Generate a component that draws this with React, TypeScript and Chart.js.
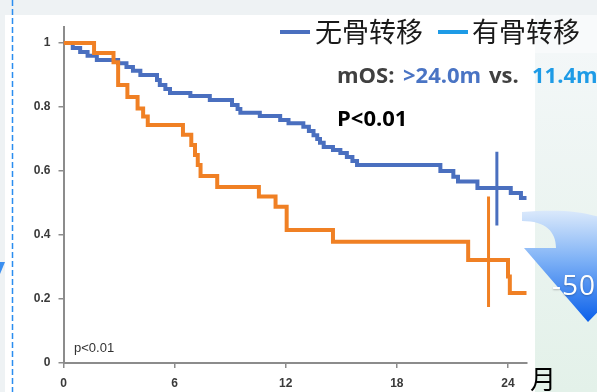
import React, { useEffect, useRef } from 'react';
import { Chart, registerables } from 'chart.js';

Chart.register(...registerables);

// ---- data ----
const blueMonths = [0, 0.5, 0.9, 1.3, 1.8, 2.95, 3.4, 3.75, 4.15, 5.05, 5.2, 5.5, 5.75, 6.85, 7.9, 9.1, 9.4, 9.55, 10.6, 11.7, 12.15, 12.95, 13.25, 13.5, 13.7, 13.85, 14.05, 14.55, 14.95, 15.3, 15.6, 15.85, 20.35, 21.05, 21.3, 22.35, 24.15, 24.7];
const blueSurv = [1, 0.984, 0.972, 0.96, 0.947, 0.937, 0.925, 0.913, 0.9, 0.884, 0.869, 0.856, 0.844, 0.834, 0.822, 0.806, 0.794, 0.782, 0.772, 0.759, 0.749, 0.738, 0.725, 0.712, 0.7, 0.688, 0.675, 0.666, 0.656, 0.644, 0.631, 0.619, 0.6, 0.582, 0.567, 0.547, 0.531, 0.516];
const blueEnd = 25.05;

const orangeMonths = [0, 1.65, 2.7, 2.95, 3.45, 4.0, 4.3, 4.55, 6.45, 6.9, 7.1, 7.25, 7.4, 8.3, 10.55, 11.45, 12.05, 14.55, 21.85, 24.0, 24.1];
const orangeSurv = [1, 0.969, 0.94, 0.869, 0.831, 0.795, 0.77, 0.744, 0.713, 0.681, 0.65, 0.619, 0.584, 0.55, 0.52, 0.488, 0.416, 0.379, 0.322, 0.27, 0.219];
const orangeEnd = 25.1;

const blueMarkMonth = 23.4;
const blueMarkRange = [0.43, 0.66];
const orangeMarkMonth = 22.95;
const orangeMarkRange = [0.175, 0.52];

const xTicks = [0, 6, 12, 18, 24];
const yTicks = [0, 0.2, 0.4, 0.6, 0.8, 1];
const legendLabels = ['无骨转移', '有骨转移'];

const BLUE = '#4a6fbf';
const ORANGE = '#f08024';
const SKY = '#1e9be6';

function stepPoints(months: number[], surv: number[], end: number) {
  const pts = months.map((m, i) => ({ x: m, y: surv[i] }));
  pts.push({ x: end, y: surv[surv.length - 1] });
  return pts;
}

const decorPlugin = {
  id: 'decor',
  beforeDraw(chart: any) {
    const ctx = chart.ctx as CanvasRenderingContext2D;
    const W = chart.width;
    const H = chart.height;
    ctx.save();
    ctx.fillStyle = '#eef2f4';
    ctx.fillRect(0, 0, W, H);
    const g = ctx.createLinearGradient(0, 50, 0, H);
    g.addColorStop(0, '#f3f7f8');
    g.addColorStop(1, '#e3f1e9');
    ctx.fillStyle = g;
    ctx.fillRect(535, 15, W - 535, H - 15);
    ctx.fillStyle = '#f8fafb';
    ctx.fillRect(535, 15, W - 535, 38);
    ctx.fillStyle = '#ffffff';
    ctx.fillRect(5, 15, 530, H - 15);
    // dashed guide line
    ctx.strokeStyle = '#2a8df0';
    ctx.lineWidth = 1.5;
    ctx.setLineDash([6, 3]);
    ctx.beginPath();
    ctx.moveTo(12.5, 0);
    ctx.lineTo(12.5, H);
    ctx.stroke();
    ctx.setLineDash([]);
    // small triangle at left edge
    ctx.fillStyle = '#3b8ff0';
    ctx.beginPath();
    ctx.moveTo(0, 262);
    ctx.lineTo(5, 262);
    ctx.lineTo(0, 274);
    ctx.closePath();
    ctx.fill();
    ctx.restore();
  },
  afterDraw(chart: any) {
    const ctx = chart.ctx as CanvasRenderingContext2D;
    ctx.save();
    const g = ctx.createLinearGradient(0, 208, 0, 322);
    g.addColorStop(0, 'rgba(222,235,252,0.95)');
    g.addColorStop(0.45, '#7fb2f6');
    g.addColorStop(1, '#0b60ea');
    ctx.fillStyle = g;
    ctx.beginPath();
    ctx.moveTo(522, 212);
    ctx.bezierCurveTo(590, 206, 626, 220, 628, 248);
    ctx.lineTo(660, 248);
    ctx.lineTo(588, 322);
    ctx.lineTo(524, 248);
    ctx.lineTo(556, 248);
    ctx.bezierCurveTo(556, 232, 546, 221, 522, 221);
    ctx.closePath();
    ctx.fill();
    ctx.restore();
  },
};

export default function App() {
  const ref = useRef<HTMLCanvasElement | null>(null);

  useEffect(() => {
    if (!ref.current) return;
    const chart = new Chart(ref.current, {
      type: 'line',
      data: {
        datasets: [
          {
            label: legendLabels[1],
            data: stepPoints(orangeMonths, orangeSurv, orangeEnd),
            borderColor: ORANGE,
            borderWidth: 4,
            stepped: 'before',
            pointRadius: 0,
            fill: false,
            borderJoinStyle: 'miter',
            order: 1,
          },
          {
            label: 'orange-mark',
            data: [
              { x: orangeMarkMonth, y: orangeMarkRange[0] },
              { x: orangeMarkMonth, y: orangeMarkRange[1] },
            ],
            borderColor: ORANGE,
            borderWidth: 3,
            pointRadius: 0,
            fill: false,
            order: 2,
          },
          {
            label: legendLabels[0],
            data: stepPoints(blueMonths, blueSurv, blueEnd),
            borderColor: BLUE,
            borderWidth: 4,
            stepped: 'before',
            pointRadius: 0,
            fill: false,
            borderJoinStyle: 'miter',
            order: 3,
          },
          {
            label: 'blue-mark',
            data: [
              { x: blueMarkMonth, y: blueMarkRange[0] },
              { x: blueMarkMonth, y: blueMarkRange[1] },
            ],
            borderColor: BLUE,
            borderWidth: 3,
            pointRadius: 0,
            fill: false,
            order: 4,
          },
        ],
      },
      options: {
        responsive: false,
        animation: false,
        devicePixelRatio: 1,
        layout: { padding: { top: 27, right: 70.5, left: 0, bottom: 0 } },
        plugins: {
          legend: { display: false },
          tooltip: { enabled: false },
        },
        scales: {
          x: {
            type: 'linear',
            min: 0,
            max: 25,
            afterBuildTicks: (s: any) => {
              s.ticks = xTicks.map((v) => ({ value: v }));
            },
            afterFit: (s: any) => {
              s.height = 29;
            },
            grid: { drawOnChartArea: false, tickLength: 5, color: '#8c8c8c', lineWidth: 1.5 },
            border: { color: '#8c8c8c', width: 2 },
            ticks: {
              padding: 8,
              color: '#3a3a3a',
              font: { family: 'Liberation Sans', size: 12, weight: 'bold' },
              maxRotation: 0,
              autoSkip: false,
            },
          },
          y: {
            type: 'linear',
            min: 0,
            max: 1.05,
            afterBuildTicks: (s: any) => {
              s.ticks = yTicks.map((v) => ({ value: v }));
            },
            afterFit: (s: any) => {
              s.width = 63.5;
            },
            grid: { drawOnChartArea: false, tickLength: 5, color: '#8c8c8c', lineWidth: 1.5 },
            border: { color: '#8c8c8c', width: 2 },
            ticks: {
              padding: 8,
              color: '#3a3a3a',
              font: { family: 'Liberation Sans', size: 12, weight: 'bold' },
              callback: (v: any) => String(v),
            },
          },
        },
      },
      plugins: [decorPlugin],
    } as any);
    return () => chart.destroy();
  }, []);

  const abs = (extra: React.CSSProperties): React.CSSProperties => ({
    position: 'absolute',
    whiteSpace: 'pre',
    ...extra,
  });
  const bold22: React.CSSProperties = {
    fontFamily: '"Open Sans", "Noto Sans", sans-serif',
    fontWeight: 700,
    fontSize: 22,
    lineHeight: '22px',
  };
  const cjk: React.CSSProperties = {
    fontFamily: '"Noto Sans CJK SC", sans-serif',
    fontSize: 27,
    lineHeight: '27px',
    color: '#1a1a1a',
  };

  return (
    <div style={{ position: 'absolute', left: 0, top: 0, width: 597, height: 392, overflow: 'hidden' }}>
      <canvas ref={ref} width={597} height={392} style={{ display: 'block', width: 597, height: 392 }} />
      {/* legend */}
      <div style={abs({ left: 280, top: 30, width: 30, height: 4, background: BLUE })} />
      <div style={abs({ left: 315, top: 17, ...cjk })}>{legendLabels[0]}</div>
      <div style={abs({ left: 438, top: 30, width: 30, height: 4, background: SKY })} />
      <div style={abs({ left: 472, top: 17, ...cjk })}>{legendLabels[1]}</div>
      {/* annotations */}
      <div style={abs({ left: 337, top: 62.5, color: '#404040', ...bold22 })}>mOS:</div>
      <div style={abs({ left: 403, top: 62.5, color: '#4a74c4', ...bold22 })}>{'>24.0m'}</div>
      <div style={abs({ left: 489, top: 62.5, color: '#404040', ...bold22 })}>vs.</div>
      <div style={abs({ left: 532, top: 62.5, color: SKY, ...bold22 })}>11.4m</div>
      <div style={abs({ left: 337, top: 105.5, color: '#000', ...bold22 })}>{'P<0.01'}</div>
      <div style={abs({ left: 74, top: 340, color: '#333', fontFamily: '"Liberation Sans", sans-serif', fontSize: 13, lineHeight: '15px' })}>{'p<0.01'}</div>
      <div style={abs({ left: 530, top: 365, ...cjk, fontSize: 26, lineHeight: '26px', color: '#000' })}>月</div>
      <div style={abs({ left: 552, top: 270, color: '#fff', fontFamily: '"Open Sans", sans-serif', fontWeight: 500, fontSize: 28, lineHeight: '28px', letterSpacing: 1, textShadow: '0 1px 2px rgba(0,0,0,0.25)' })}>-50</div>
    </div>
  );
}
